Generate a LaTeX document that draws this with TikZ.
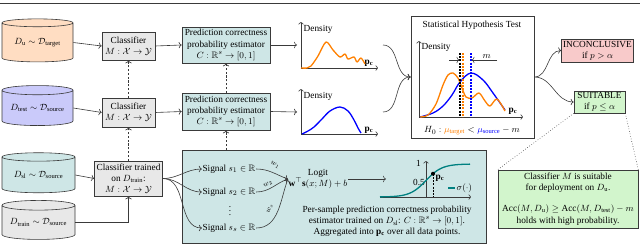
\documentclass[tikz,border=0pt]{standalone}
\usepackage{amsmath,amssymb}
\usepackage{fontspec}
\setmainfont{Liberation Serif}
\usepackage{xcolor}
\definecolor{cLine}{HTML}{3A3A3A}
\definecolor{cPeach}{HTML}{FFDDC2}
\definecolor{cLav}{HTML}{CACAFA}
\definecolor{cTeal}{HTML}{CEE6E6}
\definecolor{cGrayFill}{HTML}{E8E8E8}
\definecolor{cPink}{HTML}{F8CACA}
\definecolor{cMint}{HTML}{D2F5CC}
\definecolor{cOrange}{HTML}{FF8000}
\definecolor{cBlue}{HTML}{0000FF}
\definecolor{cSig}{HTML}{008080}
\usepackage{tikz}
\usetikzlibrary{positioning,arrows.meta,shapes.geometric,calc}
\tikzset{
  node-box/.style={draw=cLine,line width=0.6pt,align=center,inner sep=1pt},
  node-db/.style={shape=cylinder,shape border rotate=90,aspect=0.17,
    draw=cLine,line width=0.6pt,inner sep=0pt},
  node-label/.style={inner sep=0.5pt,align=center},
  node-weight/.style={inner sep=0pt,font=\fontsize{7.5}{8}\selectfont},
  arrow/.style={-{To[length=3pt]},line width=0.6pt,draw=cLine},
  arrow-dash/.style={arrow,dash pattern=on 2.2pt off 1.6pt},
  axis/.style={-{To[length=2.5pt]},line width=0.6pt,draw=cLine},
  curve/.style={line width=1.3pt,line join=round},
  mean-line/.style={line width=1.2pt,dash pattern=on 2pt off 1.2pt},
}

\begin{document}
\begin{tikzpicture}[x=1pt,y=1pt,font=\fontsize{9.3}{11.2}\selectfont]
  \useasboundingbox (0,0) rectangle (640,-244);
  \draw[line width=1.2pt,cLine] (0,-3.5) -- (640,-3.5);

  % data sets
  \node[node-db,fill=cPeach,minimum width=71pt,minimum height=43pt] (Du) at (37.5,-42.5)
    {$D_{\mathrm{u}}\sim\mathcal{D}_{\mathrm{target}}$};
  \node[node-db,fill=cLav,minimum width=71pt,minimum height=40pt] (Dtest) at (37.5,-108)
    {$D_{\mathrm{test}}\sim\mathcal{D}_{\mathrm{source}}$};
  \node[node-db,fill=cTeal,minimum width=73pt,minimum height=40pt] (Dsl) at (38.5,-175)
    {$D_{\mathrm{sl}}\sim\mathcal{D}_{\mathrm{source}}$};
  \node[node-db,fill=cGrayFill,minimum width=73pt,minimum height=39pt] (Dtrain) at (38.5,-222.5)
    {$D_{\mathrm{train}}\sim\mathcal{D}_{\mathrm{source}}$};

  % classifiers
  \node[node-box,fill=cGrayFill,minimum width=53pt,minimum height=28pt] (cls1) at (128.5,-46)
    {Classifier\\$M:\mathcal{X}\to\mathcal{Y}$};
  \node[node-box,fill=cGrayFill,minimum width=53pt,minimum height=29pt] (cls2) at (128.5,-112.5)
    {Classifier\\$M:\mathcal{X}\to\mathcal{Y}$};
  \node[node-box,fill=cGrayFill,minimum width=68pt,minimum height=35pt] (clsTrain) at (128.5,-178.5)
    {Classifier trained\\on $D_{\mathrm{train}}$:\\$M:\mathcal{X}\to\mathcal{Y}$};

  % estimators
  \node[node-box,fill=cTeal,minimum width=88pt,minimum height=36pt] (est1) at (226,-45)
    {Prediction correctness\\probability estimator\\$C:\mathbb{R}^s\to[0,1]$};
  \node[node-box,fill=cTeal,minimum width=88pt,minimum height=37pt] (est2) at (226,-111.5)
    {Prediction correctness\\probability estimator\\$C:\mathbb{R}^s\to[0,1]$};

  \draw[arrow] (Du.east) -- (cls1.west);
  \draw[arrow] (Dtest.east) -- (cls2.west);
  \draw[arrow] (Dsl.east) -- (clsTrain.west);
  \draw[arrow] (Dtrain.east) -| (clsTrain.south);
  \draw[arrow] (cls1.east) -- (est1.west);
  \draw[arrow] (cls2.east) -- (est2.west);
  \draw[arrow-dash] (cls2.north) -- (cls1.south);
  \draw[arrow-dash] (clsTrain.north) -- (cls2.south);
  \draw[arrow-dash] (est2.north) -- (est1.south);

  % signal box
  \node[node-box,fill=cTeal,minimum width=304pt,minimum height=93pt] (sigBox) at (334,-196.5) {};
  \draw[arrow-dash] (sigBox.north -| est2.south) -- (est2.south);
  \node[node-label] (sig1) at (229,-169) {Signal $s_1\in\mathbb{R}$};
  \node[node-label] (sig2) at (229,-192) {Signal $s_2\in\mathbb{R}$};
  \node[node-label,text height=7pt,text depth=0pt,inner sep=0pt] (sigDots) at (230,-212) {$\vdots$};
  \node[node-label] (sigS) at (229,-228) {Signal $s_s\in\mathbb{R}$};
  \foreach \s in {sig1,sig2,sigS}
    \draw[arrow] (clsTrain.east) to[out=0,in=180] (\s.west);
  \node[node-label] (logit) at (318,-179) {Logit\\$\mathbf{w}^{\top}\mathbf{s}(x;M)+b$};
  \draw[arrow] (sig1.east) to[out=0,in=160] (logit.west);
  \draw[arrow] (sig2.east) to[out=0,in=200] (logit.west);
  \draw[arrow] (sigS.east) to[out=0,in=250] (logit.west);
  \node[node-weight,rotate=-28] (w1) at (275,-165) {$w_1$};
  \node[node-weight,rotate=30] (w2) at (268,-184) {$w_2$};
  \node[node-weight,rotate=72] (wS) at (270,-209) {$w_s$};
  \coordinate (sigmIn) at (386,-179);
  \draw[arrow] (logit.east) -- (sigmIn);

  % sigmoid
  \draw[axis] (426,-197) -- (426,-161);
  \draw[axis] (380,-197) -- (471,-197);
  \node[node-label] (tick1) at (418.5,-163) {1};
  \node[node-label] (tick05) at (419,-182) {0.5};
  \draw[cSig,curve] plot[domain=380:470,samples=60] (\x,{-197+33/(1+exp(-(\x-426)/8))});
  \coordinate (pc) at (433,-173.7);
  \draw[line width=1pt,dash pattern=on 2pt off 1.2pt] (pc) -- (433,-197);
  \fill (pc) circle (2pt);
  \node[node-label] (pcLab) at (440,-178) {$\mathbf{p}_\mathbf{c}$};
  \draw[cSig,curve] (448,-188) -- (455,-188);
  \node[node-label,anchor=west] (sigmaLab) at (456,-188) {$\sigma(\cdot)$};
  \node[node-label] (perText) at (387,-221.5)
    {Per-sample prediction correctness probability\\estimator trained on $D_{\mathrm{sl}}$: $C:\mathbb{R}^s\to[0,1]$.\\Aggregated into $\mathbf{p}_\mathbf{c}$ over all data points.};

  % density plots
  \coordinate (in1) at (297,-45);
  \coordinate (in2) at (297,-112);
  \draw[arrow] (est1.east) -- (in1);
  \draw[arrow] (est2.east) -- (in2);
  \draw[axis] (301,-68) -- (301,-22);
  \draw[axis] (301,-68) -- (378,-68);
  \node[node-label,anchor=west] (dens1) at (303,-29) {Density};
  \node[node-label] (pc1) at (369,-63) {$\mathbf{p}_\mathbf{c}$};
  \draw[cOrange,curve] plot[smooth,tension=0.5] coordinates {(301,-68) (307,-68) (311,-66)
    (318,-56) (326,-42) (333,-50) (340,-57) (345,-54) (348,-59) (354,-57) (357,-62) (361,-58) (365,-64)};
  \draw[axis] (301,-134) -- (301,-89);
  \draw[axis] (301,-134) -- (378,-134);
  \node[node-label,anchor=west] (dens2) at (303,-96) {Density};
  \node[node-label] (pc2) at (369,-130) {$\mathbf{p}_\mathbf{c}$};
  \draw[cBlue,curve] plot[smooth,tension=0.6] coordinates {(302,-134) (308,-131) (314,-127)
    (322,-119) (330,-111) (340,-107) (348,-111) (354,-120) (358,-128) (361,-133)};
  \coordinate (out1) at (383,-45);
  \coordinate (out2) at (383,-112);

  % hypothesis test
  \node[node-box,fill=white,minimum width=123pt,minimum height=122pt] (hyp) at (472.5,-77) {};
  \node[node-label] (hypTitle) at (472,-25) {Statistical Hypothesis Test};
  \draw[arrow] (out1) to[out=0,in=180] (hyp.west);
  \draw[arrow] (out2) to[out=0,in=180] (hyp.west);
  \draw[axis] (419,-117) -- (419,-41);
  \draw[axis] (419,-117) -- (523,-117);
  \node[node-label,anchor=west] (dens3) at (421,-47) {Density};
  \node[node-label] (pc3) at (513,-111) {$\mathbf{p}_\mathbf{c}$};
  \draw[cBlue,curve] plot[smooth,tension=0.6] coordinates {(420,-117) (433,-113) (443,-106)
    (452,-95) (460,-82) (471,-73) (483,-80) (493,-93) (505,-110)};
  \draw[cOrange,curve] plot[smooth,tension=0.5] coordinates {(420,-117) (428,-115) (436,-104)
    (443,-85) (448,-75) (453,-73) (458,-78) (462,-88) (466,-97) (472,-98) (479,-93) (485,-101)
    (490,-106) (497,-99) (505,-111)};
  \draw[mean-line,black] (460,-53) -- (460,-117);
  \draw[mean-line,cOrange] (463,-53) -- (463,-117);
  \draw[mean-line,cBlue] (471,-53) -- (471,-117);
  \draw[arrow] (449,-60) -- (459.5,-60);
  \draw[arrow] (497,-60) -- node[above,pos=0.4,inner sep=1pt]{$m$} (471.5,-60);
  \node[node-label] (h0) at (472,-131)
    {$H_0:\textcolor{cOrange}{\mu_{\mathrm{target}}}<\textcolor{cBlue}{\mu_{\mathrm{source}}}-m$};

  % decisions
  \node[node-box,fill=cPink,minimum width=72pt,minimum height=23pt] (inc) at (597.5,-50.5)
    {INCONCLUSIVE\\if $p>\alpha$};
  \node[node-box,fill=cMint,minimum width=51pt,minimum height=22pt] (suit) at (599.5,-102)
    {SUITABLE\\if $p\leq\alpha$};
  \draw[arrow] (hyp.east) to[out=0,in=180] (inc.west);
  \draw[arrow] (hyp.east) to[out=0,in=180] (suit.west);
  \node[node-box,fill=cMint,minimum width=140pt,minimum height=58pt] (expl) at (568,-199)
    {Classifier $M$ is suitable\\for deployment on $D_{\mathrm{u}}$.\\[10pt]
     $\mathrm{Acc}(M,D_{\mathrm{u}})\geq\mathrm{Acc}(M,D_{\mathrm{test}})-m$\\holds with high probability.};
  \draw[cLine,line width=0.6pt,dotted] (suit.south west) -- (expl.north west);
  \draw[cLine,line width=0.6pt,dotted] (suit.south east) -- (expl.north east);
\end{tikzpicture}
\end{document}
